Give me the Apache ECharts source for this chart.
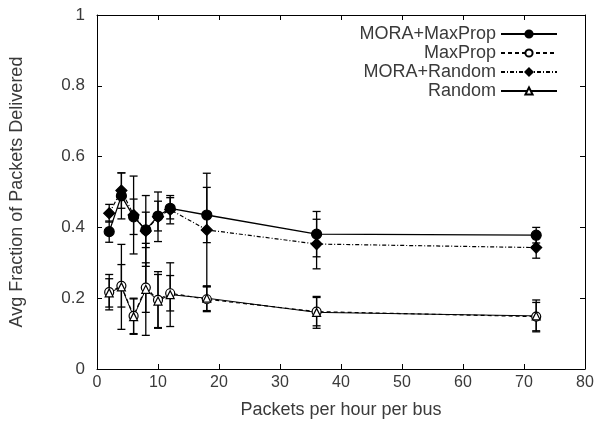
<!DOCTYPE html>
<html>
<head>
<meta charset="utf-8">
<script src="https://cdn.jsdelivr.net/npm/echarts@6/dist/echarts.min.js"></script>
<style>html,body{margin:0;padding:0;background:#fff}#c{width:601px;height:425px}</style>
</head>
<body>
<div id="c"></div>
<script>
const xValues = [2, 4, 6, 8, 10, 12, 18, 36, 72];
const seriesNames = ['MORA+MaxProp', 'MaxProp', 'MORA+Random', 'Random'];
const moraMaxProp    = [0.388, 0.489, 0.430, 0.393, 0.432, 0.454, 0.435, 0.381, 0.378];
const moraMaxPropErr = [0.030, 0.065, 0.050, 0.050, 0.042, 0.030, 0.078, 0.064, 0.022];
const maxProp        = [0.217, 0.235, 0.150, 0.230, 0.195, 0.214, 0.197, 0.162, 0.148];
const maxPropErr     = [0.050, 0.060, 0.050, 0.070, 0.080, 0.050, 0.035, 0.040, 0.040];
const moraRandom     = [0.440, 0.504, 0.435, 0.390, 0.430, 0.450, 0.393, 0.353, 0.343];
const moraRandomErr  = [0.025, 0.050, 0.110, 0.100, 0.070, 0.040, 0.160, 0.070, 0.030];
const random         = [0.215, 0.232, 0.148, 0.225, 0.192, 0.210, 0.200, 0.160, 0.150];
const randomErr      = [0.040, 0.120, 0.050, 0.130, 0.075, 0.090, 0.035, 0.045, 0.045];
const xTicks = [0, 10, 20, 30, 40, 50, 60, 70, 80];
const yTicks = [0, 0.2, 0.4, 0.6, 0.8, 1];

const FONT = 'Liberation Sans';
const TXT = '#3a3a3a';

function pts(vals) { return xValues.map((x, i) => [x, vals[i]]); }
function errPts(vals, errs) { return xValues.map((x, i) => [x, vals[i], errs[i]]); }

function errSeries(vals, errs) {
  return {
    type: 'custom',
    silent: true,
    z: 1,
    data: errPts(vals, errs),
    renderItem: function (params, api) {
      const x = api.value(0), y = api.value(1), e = api.value(2);
      const hi = api.coord([x, y + e]);
      const lo = api.coord([x, y - e]);
      const w = 4;
      const st = { stroke: '#000', lineWidth: 1.3 };
      return {
        type: 'group',
        children: [
          { type: 'line', shape: { x1: hi[0], y1: hi[1], x2: lo[0], y2: lo[1] }, style: st },
          { type: 'line', shape: { x1: hi[0] - w, y1: hi[1], x2: hi[0] + w, y2: hi[1] }, style: st },
          { type: 'line', shape: { x1: lo[0] - w, y1: lo[1], x2: lo[0] + w, y2: lo[1] }, style: st }
        ]
      };
    }
  };
}

const lineDefs = [
  { name: seriesNames[0], data: moraMaxProp, symbol: 'circle', size: 10, fill: '#000', dash: 'solid', lw: 1.3 },
  { name: seriesNames[1], data: maxProp, symbol: 'circle', size: 9, fill: '#fff', dash: [4, 3], lw: 1.2 },
  { name: seriesNames[2], data: moraRandom, symbol: 'diamond', size: 11, fill: '#000', dash: [4, 2, 1, 2], lw: 1.2 },
  { name: seriesNames[3], data: random, symbol: 'triangle', size: 8, fill: '#fff', dash: 'solid', lw: 1 }
];

const series = [
  errSeries(moraMaxProp, moraMaxPropErr),
  errSeries(maxProp, maxPropErr),
  errSeries(moraRandom, moraRandomErr),
  errSeries(random, randomErr)
];
lineDefs.forEach(d => {
  series.push({
    type: 'line',
    name: d.name,
    data: pts(d.data),
    symbol: d.symbol,
    symbolSize: d.size,
    showAllSymbol: true,
    z: 3,
    animation: false,
    lineStyle: { color: '#000', width: d.lw, type: d.dash },
    itemStyle: { color: d.fill, borderColor: '#000', borderWidth: 1.2 }
  });
});

const chart = echarts.init(document.getElementById('c'), null, { renderer: 'canvas' });
const axisCommon = {
  min: 0,
  axisLine: { show: true, onZero: false, lineStyle: { color: '#000', width: 1 } },
  axisTick: { show: true, inside: true, length: 5, lineStyle: { color: '#000' } },
  splitLine: { show: false }
};
chart.setOption({
  animation: false,
  backgroundColor: '#fff',
  grid: { left: 95, right: 16, top: 15, bottom: 56 },
  legend: {
    data: seriesNames,
    orient: 'vertical',
    align: 'right',
    right: 38,
    top: 20,
    itemWidth: 56,
    itemHeight: 9,
    itemGap: 1,
    selectedMode: false,
    textStyle: { fontFamily: FONT, fontSize: 18, color: TXT, lineHeight: 18 }
  },
  xAxis: [
    Object.assign({}, axisCommon, {
      type: 'value', max: 80, interval: 10, position: 'bottom',
      name: 'Packets per hour per bus', nameLocation: 'middle', nameGap: 32,
      nameTextStyle: { fontFamily: FONT, fontSize: 18, color: TXT },
      axisLabel: { fontFamily: FONT, fontSize: 16, color: TXT, margin: 6,
        formatter: v => xTicks.indexOf(v) >= 0 ? String(v) : '' }
    }),
    Object.assign({}, axisCommon, {
      type: 'value', max: 80, interval: 10, position: 'top',
      axisLabel: { show: false }
    })
  ],
  yAxis: [
    Object.assign({}, axisCommon, {
      type: 'value', max: 1, interval: 0.2, position: 'left',
      name: 'Avg Fraction of Packets Delivered', nameLocation: 'middle', nameGap: 71,
      nameTextStyle: { fontFamily: FONT, fontSize: 18, color: TXT },
      axisLabel: { fontFamily: FONT, fontSize: 17, color: TXT, margin: 12,
        formatter: v => { const t = yTicks.find(k => Math.abs(k - v) < 1e-9); return t === undefined ? '' : String(t); } }
    }),
    Object.assign({}, axisCommon, {
      type: 'value', max: 1, interval: 0.2, position: 'right',
      axisLabel: { show: false }
    })
  ],
  series: series
});
</script>
</body>
</html>
